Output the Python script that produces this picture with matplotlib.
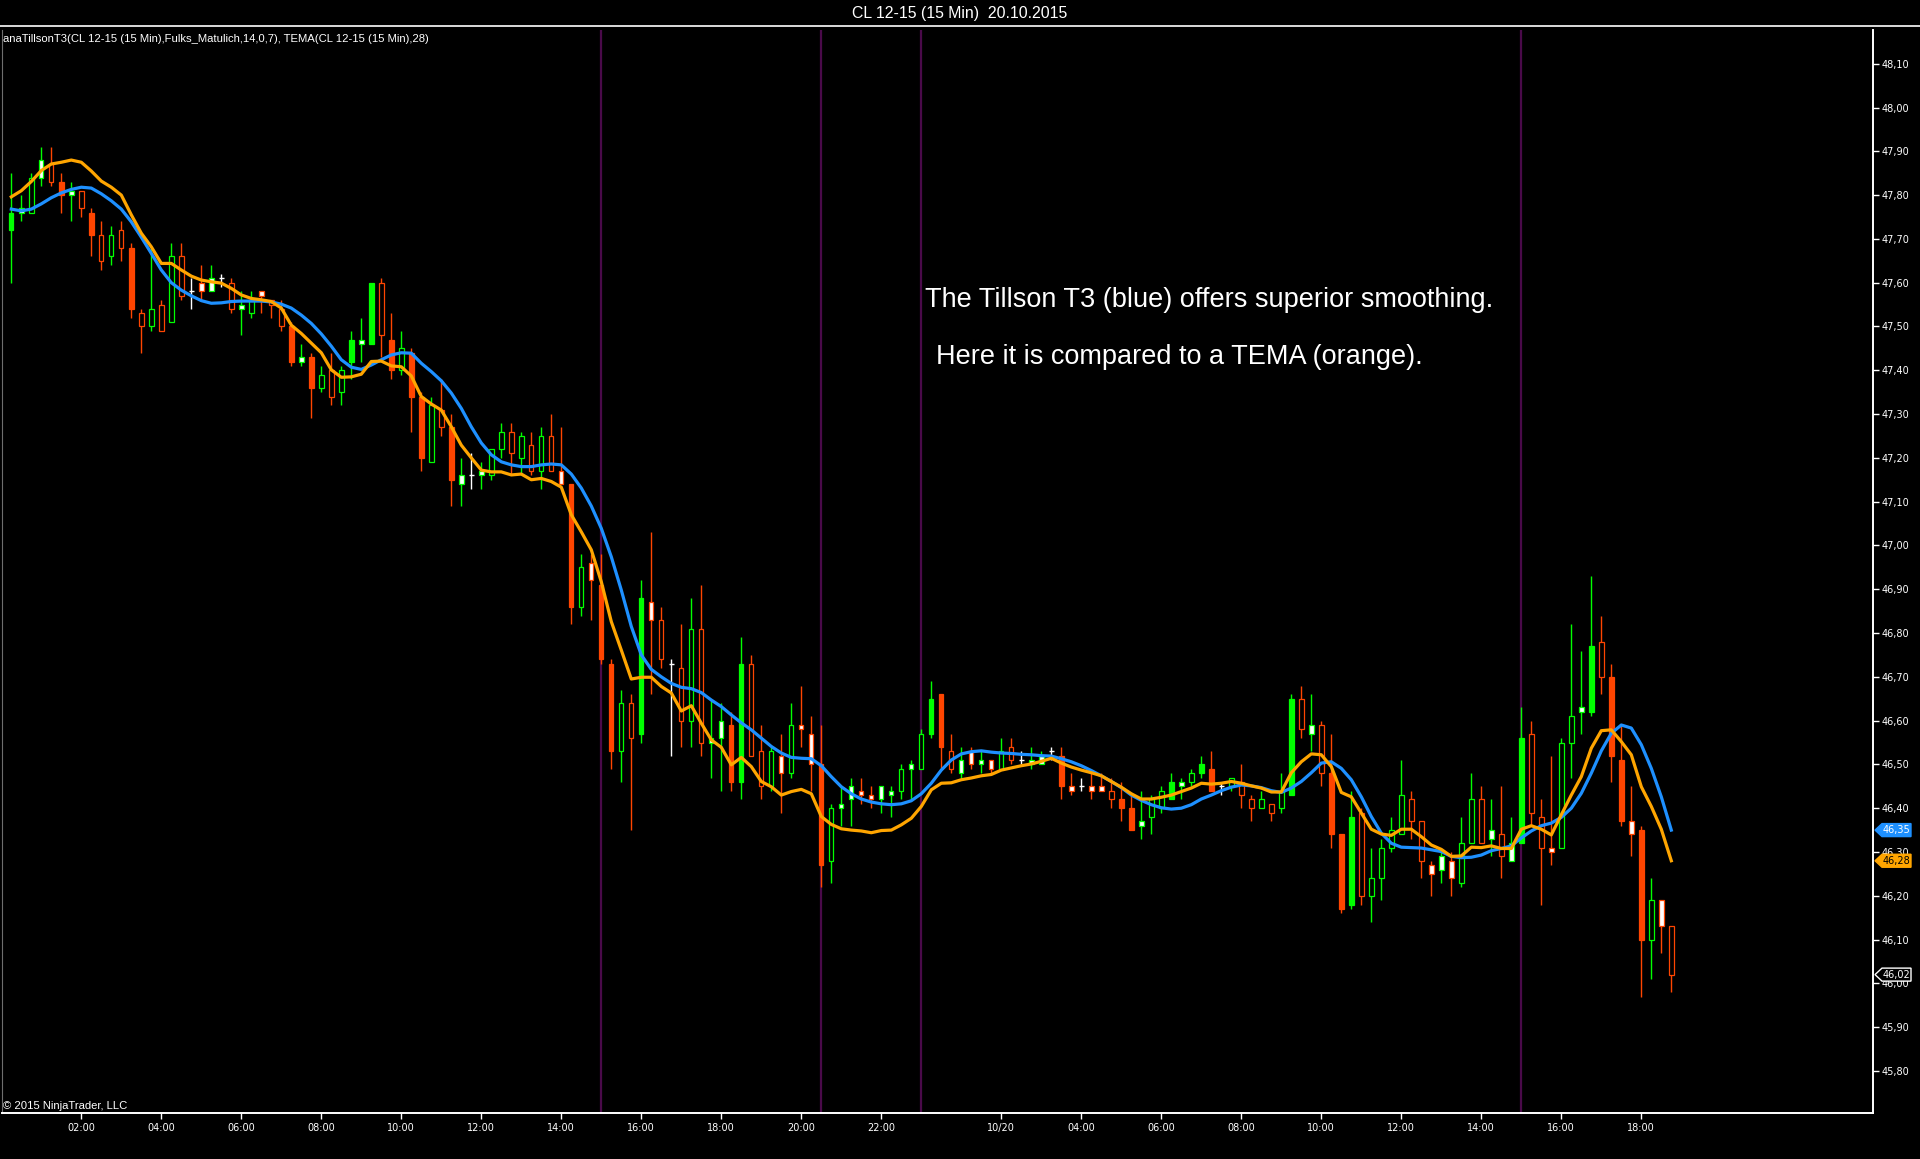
import matplotlib
matplotlib.use("Agg")
import matplotlib.pyplot as plt
from matplotlib import font_manager
from matplotlib.lines import Line2D
from matplotlib.patches import Polygon, Rectangle
from matplotlib.transforms import blended_transform_factory
import numpy as np

# CL 12-15, 15 min bars (prices)
opens = [47.72, 47.76, 47.76, 47.84, 47.87, 47.83, 47.80, 47.81, 47.76, 47.71,
         47.66, 47.72, 47.68, 47.53, 47.50, 47.55, 47.51, 47.66, 47.58, 47.60,
         47.58, 47.61, 47.60, 47.54, 47.53, 47.58, 47.56, 47.54, 47.50, 47.42,
         47.43, 47.36, 47.40, 47.35, 47.42, 47.46, 47.46, 47.60, 47.47, 47.40,
         47.44, 47.34, 47.19, 47.31, 47.27, 47.14, 47.16, 47.16, 47.16, 47.22,
         47.26, 47.20, 47.23, 47.17, 47.25, 47.17, 47.14, 46.86, 46.96, 46.91,
         46.73, 46.53, 46.64, 46.57, 46.87, 46.83, 46.73, 46.72, 46.60, 46.81,
         46.55, 46.56, 46.59, 46.46, 46.73, 46.53, 46.45, 46.52, 46.48, 46.59,
         46.57, 46.50, 46.28, 46.40, 46.42, 46.44, 46.43, 46.42, 46.43, 46.44,
         46.49, 46.49, 46.57, 46.66, 46.53, 46.48, 46.53, 46.50, 46.51, 46.49,
         46.54, 46.51, 46.50, 46.50, 46.53, 46.52, 46.45, 46.45, 46.45, 46.45,
         46.44, 46.42, 46.40, 46.36, 46.38, 46.40, 46.42, 46.45, 46.46, 46.48,
         46.49, 46.45, 46.45, 46.46, 46.42, 46.40, 46.41, 46.40, 46.43, 46.65,
         46.57, 46.59, 46.48, 46.34, 46.18, 46.39, 46.20, 46.24, 46.31, 46.34,
         46.42, 46.37, 46.27, 46.26, 46.28, 46.23, 46.32, 46.42, 46.33, 46.34,
         46.28, 46.32, 46.57, 46.38, 46.31, 46.31, 46.55, 46.62, 46.62, 46.78,
         46.70, 46.51, 46.37, 46.35, 46.10, 46.19, 46.13]
highs = [47.85, 47.80, 47.85, 47.91, 47.91, 47.85, 47.83, 47.81, 47.77, 47.74,
         47.73, 47.74, 47.69, 47.54, 47.68, 47.56, 47.69, 47.69, 47.61, 47.64,
         47.64, 47.62, 47.61, 47.58, 47.58, 47.58, 47.56, 47.56, 47.51, 47.46,
         47.44, 47.41, 47.44, 47.41, 47.49, 47.52, 47.60, 47.61, 47.53, 47.49,
         47.45, 47.35, 47.34, 47.38, 47.30, 47.20, 47.21, 47.19, 47.22, 47.28,
         47.28, 47.26, 47.26, 47.27, 47.30, 47.27, 47.14, 46.98, 46.98, 46.98,
         46.74, 46.67, 46.66, 46.92, 47.03, 46.86, 46.74, 46.82, 46.88, 46.91,
         46.65, 46.64, 46.62, 46.79, 46.75, 46.59, 46.54, 46.57, 46.64, 46.68,
         46.61, 46.59, 46.41, 46.45, 46.47, 46.47, 46.45, 46.45, 46.45, 46.50,
         46.51, 46.58, 46.69, 46.66, 46.57, 46.54, 46.54, 46.53, 46.51, 46.56,
         46.56, 46.53, 46.54, 46.53, 46.54, 46.54, 46.48, 46.47, 46.48, 46.48,
         46.47, 46.46, 46.43, 46.44, 46.43, 46.45, 46.48, 46.47, 46.49, 46.52,
         46.53, 46.46, 46.47, 46.50, 46.43, 46.44, 46.41, 46.48, 46.66, 46.68,
         46.66, 46.60, 46.57, 46.34, 46.44, 46.40, 46.31, 46.33, 46.38, 46.51,
         46.44, 46.37, 46.28, 46.30, 46.30, 46.38, 46.48, 46.45, 46.42, 46.45,
         46.38, 46.63, 46.60, 46.42, 46.52, 46.56, 46.82, 46.76, 46.93, 46.84,
         46.73, 46.59, 46.45, 46.36, 46.24, 46.19, 46.13]
lows = [47.60, 47.74, 47.76, 47.82, 47.82, 47.76, 47.74, 47.75, 47.66, 47.63,
        47.64, 47.65, 47.52, 47.44, 47.49, 47.49, 47.51, 47.56, 47.54, 47.56,
        47.58, 47.59, 47.53, 47.48, 47.52, 47.53, 47.52, 47.49, 47.41, 47.41,
        47.29, 47.35, 47.32, 47.32, 47.38, 47.42, 47.46, 47.43, 47.38, 47.39,
        47.26, 47.17, 47.19, 47.25, 47.09, 47.09, 47.13, 47.13, 47.15, 47.20,
        47.16, 47.16, 47.16, 47.13, 47.17, 47.14, 46.82, 46.84, 46.83, 46.73,
        46.49, 46.46, 46.35, 46.55, 46.66, 46.72, 46.52, 46.54, 46.54, 46.52,
        46.47, 46.44, 46.44, 46.42, 46.52, 46.42, 46.44, 46.39, 46.47, 46.54,
        46.44, 46.22, 46.23, 46.36, 46.36, 46.41, 46.40, 46.39, 46.38, 46.42,
        46.42, 46.49, 46.56, 46.49, 46.48, 46.47, 46.49, 46.48, 46.48, 46.49,
        46.50, 46.50, 46.49, 46.50, 46.51, 46.42, 46.43, 46.44, 46.42, 46.44,
        46.40, 46.37, 46.35, 46.33, 46.34, 46.39, 46.42, 46.42, 46.45, 46.47,
        46.44, 46.43, 46.44, 46.40, 46.37, 46.40, 46.37, 46.39, 46.43, 46.56,
        46.53, 46.45, 46.31, 46.16, 46.17, 46.18, 46.14, 46.19, 46.30, 46.34,
        46.33, 46.24, 46.20, 46.23, 46.20, 46.22, 46.32, 46.32, 46.29, 46.24,
        46.28, 46.32, 46.36, 46.18, 46.27, 46.31, 46.47, 46.57, 46.61, 46.66,
        46.46, 46.36, 46.29, 45.97, 46.01, 46.07, 45.98]
closes = [47.76, 47.77, 47.84, 47.88, 47.83, 47.80, 47.81, 47.77, 47.71, 47.65,
          47.71, 47.68, 47.54, 47.50, 47.54, 47.49, 47.66, 47.57, 47.58, 47.58,
          47.61, 47.61, 47.54, 47.55, 47.56, 47.57, 47.55, 47.50, 47.42, 47.43,
          47.36, 47.39, 47.34, 47.40, 47.47, 47.47, 47.60, 47.48, 47.40, 47.45,
          47.34, 47.20, 47.32, 47.27, 47.15, 47.16, 47.16, 47.17, 47.22, 47.26,
          47.21, 47.25, 47.17, 47.25, 47.17, 47.14, 46.86, 46.95, 46.92, 46.74,
          46.53, 46.64, 46.56, 46.88, 46.83, 46.74, 46.73, 46.60, 46.81, 46.55,
          46.56, 46.60, 46.46, 46.73, 46.52, 46.45, 46.53, 46.48, 46.59, 46.58,
          46.50, 46.27, 46.40, 46.41, 46.45, 46.43, 46.42, 46.45, 46.44, 46.49,
          46.50, 46.57, 46.65, 46.54, 46.49, 46.51, 46.50, 46.51, 46.49, 46.53,
          46.51, 46.51, 46.51, 46.52, 46.53, 46.45, 46.44, 46.45, 46.44, 46.44,
          46.42, 46.40, 46.35, 46.37, 46.42, 46.44, 46.46, 46.46, 46.48, 46.50,
          46.44, 46.45, 46.47, 46.43, 46.40, 46.42, 46.39, 46.44, 46.65, 46.58,
          46.59, 46.48, 46.34, 46.17, 46.38, 46.20, 46.24, 46.31, 46.35, 46.43,
          46.37, 46.28, 46.25, 46.29, 46.24, 46.32, 46.42, 46.32, 46.35, 46.29,
          46.32, 46.56, 46.39, 46.31, 46.30, 46.55, 46.61, 46.63, 46.77, 46.70,
          46.52, 46.37, 46.34, 46.10, 46.19, 46.13, 46.02]

# paint bar state: g = up, r = down, w = doji / neutral
bar_tone = list("ggggrrgrrr" "grrrgrgrwr" "gwrggrrrrg" "rgrggggrrg"
                "rrgrrgwggg" "rgrgrrrgrr" "rgrgrrwrgr" "ggrgrrgrgr"
                "rrgggrrggg" "gggrrgrgrg" "rwggwrrwrr" "rrrggggggg"
                "rwgrrgrggr" "grrrgrgggg" "rrrgrggrgr" "ggrrrggggr" "rrrrgrr")
# body: s = solid, h = hollow, w = white body, d = doji
bar_fill = list("swhwhswhsh" "hhshhhhhdw" "wdhwhwhhsw" "shhhswshsh"
                "sshhswdwhh" "hhhhhwshws" "shhswhdhhh" "wwsshhhwhw"
                "wshwwwwwwh" "whsshwwwwh" "hdwwdswdww" "hsswhhswhs"
                "sdhhhhhhsh" "whssshhhhh" "hhwwwhhhwh" "wshhwhhwsh" "sswshwh")

# anaTillsonT3 (blue)
t3 = [47.768, 47.764, 47.768, 47.780, 47.794, 47.805, 47.813, 47.818, 47.816, 47.803,
      47.787, 47.768, 47.739, 47.704, 47.667, 47.629, 47.600, 47.583, 47.570, 47.559,
      47.553, 47.554, 47.557, 47.558, 47.558, 47.558, 47.556, 47.551, 47.542, 47.526,
      47.507, 47.483, 47.455, 47.424, 47.407, 47.402, 47.412, 47.424, 47.435, 47.440,
      47.439, 47.416, 47.397, 47.376, 47.348, 47.313, 47.271, 47.234, 47.207, 47.191,
      47.184, 47.180, 47.180, 47.184, 47.186, 47.184, 47.163, 47.131, 47.090, 47.039,
      46.974, 46.898, 46.815, 46.750, 46.717, 46.700, 46.685, 46.676, 46.673, 46.664,
      46.647, 46.632, 46.613, 46.595, 46.579, 46.560, 46.541, 46.526, 46.516, 46.514,
      46.513, 46.497, 46.472, 46.449, 46.433, 46.421, 46.414, 46.410, 46.408, 46.410,
      46.417, 46.433, 46.457, 46.487, 46.510, 46.524, 46.529, 46.531, 46.528, 46.526,
      46.525, 46.523, 46.522, 46.520, 46.519, 46.513, 46.506, 46.497, 46.486, 46.474,
      46.461, 46.447, 46.430, 46.418, 46.408, 46.401, 46.398, 46.400, 46.408, 46.421,
      46.430, 46.440, 46.448, 46.453, 46.451, 46.447, 46.440, 46.436, 46.446, 46.461,
      46.481, 46.503, 46.506, 46.491, 46.465, 46.426, 46.381, 46.343, 46.320, 46.311,
      46.310, 46.309, 46.305, 46.301, 46.290, 46.287, 46.288, 46.293, 46.303, 46.308,
      46.314, 46.332, 46.348, 46.360, 46.366, 46.379, 46.400, 46.434, 46.480, 46.531,
      46.571, 46.590, 46.583, 46.545, 46.491, 46.426, 46.350]

# TEMA 28 (orange)
tema = [47.796, 47.810, 47.831, 47.856, 47.871, 47.875, 47.880, 47.875, 47.855, 47.832,
        47.818, 47.800, 47.755, 47.713, 47.682, 47.644, 47.644, 47.629, 47.615, 47.606,
        47.602, 47.599, 47.587, 47.572, 47.564, 47.561, 47.557, 47.542, 47.503, 47.484,
        47.462, 47.440, 47.401, 47.384, 47.385, 47.391, 47.420, 47.421, 47.410, 47.408,
        47.387, 47.340, 47.323, 47.309, 47.271, 47.229, 47.200, 47.172, 47.168, 47.168,
        47.161, 47.163, 47.150, 47.153, 47.146, 47.133, 47.070, 47.031, 46.990, 46.917,
        46.826, 46.761, 46.695, 46.699, 46.699, 46.678, 46.663, 46.622, 46.634, 46.594,
        46.556, 46.539, 46.499, 46.516, 46.495, 46.461, 46.449, 46.430, 46.438, 46.443,
        46.433, 46.381, 46.363, 46.353, 46.350, 46.348, 46.344, 46.349, 46.350, 46.362,
        46.377, 46.404, 46.442, 46.457, 46.458, 46.465, 46.469, 46.474, 46.477, 46.487,
        46.492, 46.497, 46.501, 46.507, 46.514, 46.503, 46.494, 46.487, 46.481, 46.474,
        46.461, 46.448, 46.433, 46.421, 46.421, 46.425, 46.430, 46.438, 46.446, 46.457,
        46.455, 46.457, 46.461, 46.457, 46.451, 46.446, 46.437, 46.437, 46.481, 46.506,
        46.524, 46.522, 46.495, 46.436, 46.426, 46.389, 46.352, 46.341, 46.338, 46.352,
        46.352, 46.335, 46.316, 46.306, 46.290, 46.291, 46.311, 46.310, 46.314, 46.308,
        46.308, 46.352, 46.360, 46.352, 46.339, 46.385, 46.430, 46.472, 46.537, 46.577,
        46.579, 46.552, 46.522, 46.449, 46.404, 46.352, 46.280]

# time axis labels sit on these bars
time_ticks = [7, 15, 23, 31, 39, 47, 55, 63, 71, 79, 87, 99, 107, 115, 123, 131, 139, 147, 155, 163]
time_labels = ["02:00", "04:00", "06:00", "08:00", "10:00", "12:00", "14:00", "16:00", "18:00",
               "20:00", "22:00", "10/20", "04:00", "06:00", "08:00", "10:00", "12:00", "14:00",
               "16:00", "18:00"]
session_breaks = [59, 81, 91, 151]
price_ticks = [45.8, 45.9, 46.0, 46.1, 46.2, 46.3, 46.4, 46.5, 46.6, 46.7, 46.8, 46.9,
               47.0, 47.1, 47.2, 47.3, 47.4, 47.5, 47.6, 47.7, 47.8, 47.9, 48.0, 48.1]

n = len(closes)
assert all(len(a) == n for a in [opens, highs, lows, t3, tema, bar_tone, bar_fill])

names = {f.name for f in font_manager.fontManager.ttflist}
narrow = "Liberation Sans Narrow" in names
small_family = ["Liberation Sans Narrow", "Liberation Sans"] if narrow else ["Liberation Sans"]

W, H = 1920, 1159
fig = plt.figure(figsize=(W / 100, H / 100), dpi=100, facecolor="black")
left, right, top, bottom = 2, 1873, 30, 1113
ax = fig.add_axes([left / W, 1 - bottom / H, (right - left) / W, (bottom - top) / H])
ax.set_facecolor("black")

x = np.arange(n)
# bar i is centred at 11.3 + 10*i px
ax.set_xlim((left - 11.3) / 10, (right - 11.3) / 10)
ax.set_ylim(45.704, 48.177)

for b in session_breaks:
    ax.axvline(b, color="#4a0a4a", lw=1.6, zorder=1)

tone_col = {"g": "#00ff00", "r": "#ff4500", "w": "#ffffff"}
cols = [tone_col[t] for t in bar_tone]
ax.vlines(x, lows, highs, colors=cols, lw=1.0, zorder=2)

for i in x:
    c = cols[i]
    lo, hi = min(opens[i], closes[i]), max(opens[i], closes[i])
    if bar_fill[i] == "d":
        ax.hlines(closes[i], i - 0.28, i + 0.28, color=c, lw=1.0, zorder=3)
        continue
    face = {"s": c, "h": "black", "w": "white"}[bar_fill[i]]
    ax.add_patch(Rectangle((i - 0.22, lo), 0.44, hi - lo, facecolor=face,
                           edgecolor=c, lw=0.9, zorder=3))

ax.plot(x, t3, color="#1e90ff", lw=2.3, zorder=4, solid_joinstyle="round")
ax.plot(x, tema, color="#ffa500", lw=2.3, zorder=5, solid_joinstyle="round")

# axes look
ax.spines["top"].set_visible(False)
ax.spines["left"].set_color("#6e6e6e")
ax.spines["left"].set_linewidth(0.8)
ax.spines["right"].set_color("white")
ax.spines["right"].set_linewidth(1.4)
ax.spines["bottom"].set_color("white")
ax.spines["bottom"].set_linewidth(1.4)

ax.yaxis.tick_right()
ax.set_yticks(price_ticks)
ax.set_yticklabels([f"{v:.2f}".replace(".", ",") for v in price_ticks])
ax.set_xticks(time_ticks)
ax.set_xticklabels(time_labels)
ax.tick_params(axis="y", colors="white", length=4.5, width=1, pad=1.5, labelsize=7)
ax.tick_params(axis="x", colors="white", length=4.5, width=1, pad=2.5, labelsize=7)

# price markers on the right axis
aw = right - left
trans = blended_transform_factory(ax.transAxes, ax.transData)
hh = 6.5 / 438
def tag(y, face, edge, txt):
    pts = [(1 + 2 / aw, y), (1 + 9 / aw, y + hh), (1 + 38 / aw, y + hh),
           (1 + 38 / aw, y - hh), (1 + 9 / aw, y - hh)]
    ax.add_patch(Polygon(pts, closed=True, transform=trans, facecolor=face,
                         edgecolor=edge, lw=1, clip_on=False, zorder=10))
    ax.text(1 + 23 / aw, y, f"{y:.2f}".replace(".", ","), transform=trans, ha="center",
            va="center", fontsize=7, color=txt, clip_on=False, zorder=11)

tag(t3[-1], "#1e90ff", "#1e90ff", "white")
tag(tema[-1], "#ffa500", "#ffa500", "black")
tag(closes[-1], "black", "white", "white")

# texts
small = 9.9 if narrow else 8.1
fig.add_artist(Line2D([0, 1], [1 - 26 / H] * 2, color="white", lw=1.2, transform=fig.transFigure))
fig.text(0.5, 1 - 13.5 / H, "CL 12-15 (15 Min)  20.10.2015", ha="center", va="center",
         color="white", fontsize=13 if narrow else 11.4, family=small_family)
fig.text(3 / W, 1 - 38.5 / H,
         "anaTillsonT3(CL 12-15 (15 Min),Fulks_Matulich,14,0,7), TEMA(CL 12-15 (15 Min),28)",
         ha="left", va="center", color="white", fontsize=small, family=small_family)
fig.text(3 / W, 1 - 1106 / H, "\u00a9 2015 NinjaTrader, LLC", ha="left", va="center",
         color="white", fontsize=small, family=small_family)
fig.text(925 / W, 1 - 307 / H, "The Tillson T3 (blue) offers superior smoothing.",
         ha="left", va="baseline", color="white", fontsize=19.5, family="Liberation Sans")
fig.text(936 / W, 1 - 364 / H, "Here it is compared to a TEMA (orange).",
         ha="left", va="baseline", color="white", fontsize=19.5, family="Liberation Sans")

fig.savefig("out.png", dpi=100, facecolor="black")
